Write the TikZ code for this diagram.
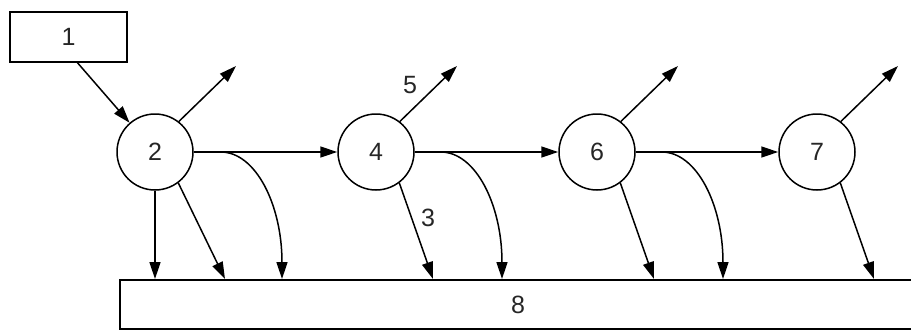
\documentclass[tikz,border=0pt]{standalone}
\usepackage{fontspec}
\setmainfont{Liberation Sans}
\usetikzlibrary{arrows.meta,calc}
\begin{document}
\begin{tikzpicture}[x=1pt,y=-1pt,
  every node/.style={font=\fontsize{25}{29}\selectfont, text=black!85},
  circ/.style={draw, circle, minimum size=76pt, inner sep=0pt, line width=1.5pt},
  box/.style={draw, rectangle, inner sep=0pt, line width=1.5pt},
  arr/.style={-{Triangle[length=17pt,width=11pt]}, line width=1.5pt}]
\useasboundingbox (0,0) rectangle (911,330);
\clip (0,0) rectangle (911,330);
% nodes
\node[box, minimum width=117pt, minimum height=50pt] (n1) at (68.5,37) {1};
\node[circ] (n2) at (155,152) {2};
\node[circ] (n4) at (376,152) {4};
\node[circ] (n6) at (597,152) {6};
\node[circ] (n7) at (817,152) {7};
\node[box, minimum width=800pt, minimum height=49pt, anchor=north west] (n8) at (119,279) {};
\node (l8) at (518,305) {8};
\node (l3) at (428,218) {3};
\node (l5) at (410,85) {5};
% free ends
\foreach \n in {2,4,6,7}{
  \coordinate (u\n) at ($(n\n)+(81,-86)$);
}
\coordinate (d2a) at (155,279);
\coordinate (d2b) at (225,279);
\coordinate (d2c) at (282,279);
\coordinate (d4b) at (433,279);
\coordinate (d4c) at (502,279);
\coordinate (d6b) at (654,279);
\coordinate (d6c) at (723,279);
\coordinate (d7b) at (874,279);
% connectors
\draw[arr] ([xshift=9pt]n1.south) -- (n2.131);
\foreach \n in {2,4,6,7}{
  \draw[arr] (n\n.52) -- (u\n);
}
\draw[arr] (n2) -- (n4);
\draw[arr] (n4) -- (n6);
\draw[arr] (n6) -- (n7);
\draw[arr] (n2.south) -- (d2a);
\draw[arr] (n2.-53) -- (d2b);
\draw[arr] ([xshift=27pt]n2.east) .. controls +(35,0) and +(0,-74) .. (d2c);
\draw[arr] (n4.-53) -- (d4b);
\draw[arr] ([xshift=26pt]n4.east) .. controls +(35,0) and +(0,-74) .. (d4c);
\draw[arr] (n6.-53) -- (d6b);
\draw[arr] ([xshift=26pt]n6.east) .. controls +(35,0) and +(0,-74) .. (d6c);
\draw[arr] (n7.-53) -- (d7b);
\end{tikzpicture}
\end{document}
